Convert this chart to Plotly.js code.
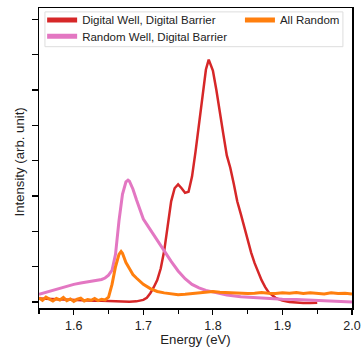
<!DOCTYPE html>
<html>
<head>
<meta charset="utf-8">
<script src="https://cdn.plot.ly/plotly-3.0.1.min.js"></script>
<style>html,body{margin:0;padding:0;background:#fff;}#chart{width:361px;height:351px;}</style>
</head>
<body>
<div id="chart"></div>
<script>
// Digital Well, Digital Barrier (red)
const redE = [1.55,1.56,1.57,1.58,1.59,1.60,1.61,1.62,1.63,1.64,1.65,1.66,1.67,1.68,1.69,1.70,1.705,1.71,1.715,1.72,1.725,1.73,1.735,1.74,1.745,1.75,1.755,1.76,1.765,1.77,1.775,1.78,1.785,1.79,1.794,1.80,1.805,1.81,1.815,1.82,1.825,1.83,1.835,1.84,1.845,1.85,1.855,1.86,1.865,1.87,1.875,1.88,1.89,1.90,1.91,1.92,1.93,1.94,1.95];
const redI = [0.10,0.09,0.08,0.07,0.06,0.05,0.05,0.05,0.04,0.04,0.03,0.02,0.02,0.01,0.02,0.06,0.12,0.25,0.42,0.62,0.95,1.45,2.15,2.85,3.22,3.33,3.22,3.09,3.12,3.55,4.25,5.05,5.92,6.58,6.86,6.55,6.00,5.30,4.75,4.15,3.80,3.35,2.85,2.50,2.12,1.75,1.40,1.10,0.84,0.62,0.43,0.28,0.12,0.04,0.00,-0.02,-0.03,-0.03,-0.02];

// Random Well, Digital Barrier (pink)
const pinkE = [1.55,1.56,1.57,1.58,1.59,1.60,1.61,1.62,1.63,1.64,1.645,1.65,1.655,1.66,1.665,1.67,1.675,1.678,1.68,1.685,1.69,1.695,1.70,1.705,1.71,1.72,1.73,1.74,1.75,1.76,1.77,1.78,1.79,1.80,1.82,1.84,1.86,1.88,1.90,1.92,1.94,1.96,1.98,2.00];
const pinkI = [0.22,0.28,0.33,0.39,0.45,0.50,0.54,0.57,0.60,0.64,0.68,0.76,0.90,1.35,2.30,3.05,3.40,3.45,3.42,3.20,2.90,2.60,2.35,2.20,2.05,1.75,1.42,1.15,0.88,0.66,0.50,0.40,0.33,0.28,0.20,0.15,0.12,0.10,0.08,0.07,0.05,0.03,0.02,0.00];

// All Random (orange)
const orangeE = [1.55,1.555,1.56,1.565,1.57,1.575,1.58,1.585,1.59,1.595,1.60,1.605,1.61,1.615,1.62,1.625,1.63,1.635,1.64,1.645,1.65,1.655,1.66,1.665,1.668,1.67,1.675,1.68,1.685,1.69,1.695,1.70,1.71,1.72,1.73,1.74,1.75,1.76,1.77,1.78,1.79,1.80,1.81,1.82,1.83,1.84,1.85,1.86,1.87,1.88,1.89,1.90,1.91,1.92,1.93,1.94,1.95,1.96,1.97,1.98,1.99,2.00];
const orangeI = [0.12,0.05,0.14,0.08,0.03,0.10,0.06,0.13,0.04,0.09,0.02,0.08,0.11,0.03,0.07,0.05,0.10,0.04,0.08,0.06,0.14,0.50,1.00,1.35,1.43,1.38,1.12,0.95,0.78,0.68,0.58,0.50,0.38,0.30,0.26,0.23,0.21,0.22,0.24,0.27,0.29,0.30,0.28,0.27,0.25,0.26,0.24,0.25,0.27,0.25,0.24,0.26,0.25,0.27,0.24,0.26,0.25,0.23,0.26,0.24,0.25,0.23];

const seriesNames = ['Digital Well, Digital Barrier','Random Well, Digital Barrier','All Random'];
const seriesColors = ['#d62728','#e377c2','#ff7f0e'];
const xTickVals = [1.6,1.7,1.8,1.9,2.0];
const xTickText = ['1.6','1.7','1.8','1.9','2.0'];

const FONT = 'Arial, "Liberation Sans", sans-serif';
const LEGFONT = {size:11.5, family:FONT, color:'#222'};

const traces = [
  {x: redE, y: redI, mode:'lines', line:{color:seriesColors[0], width:2.5}, showlegend:false, hoverinfo:'skip'},
  {x: pinkE, y: pinkI, mode:'lines', line:{color:seriesColors[1], width:3}, showlegend:false, hoverinfo:'skip'},
  {x: orangeE, y: orangeI, mode:'lines', line:{color:seriesColors[2], width:3}, showlegend:false, hoverinfo:'skip'},
  // legend handles
  {x:[null], y:[null], mode:'lines', name:seriesNames[0], line:{color:seriesColors[0], width:5}, legend:'legend'},
  {x:[null], y:[null], mode:'lines', name:seriesNames[1], line:{color:seriesColors[1], width:5}, legend:'legend3'},
  {x:[null], y:[null], mode:'lines', name:seriesNames[2], line:{color:seriesColors[2], width:5}, legend:'legend2'}
];

const legBase = {xanchor:'left', yanchor:'middle', bgcolor:'rgba(0,0,0,0)', borderwidth:0, font:LEGFONT, itemwidth:30};

const layout = {
  width:361, height:351,
  margin:{l:39, r:9, t:5, b:43},
  paper_bgcolor:'#fff', plot_bgcolor:'#fff',
  font:{family:FONT, color:'#222', size:11},
  xaxis:{
    range:[1.55,2.0], tickvals:xTickVals, ticktext:xTickText,
    ticks:'outside', ticklen:5, tickwidth:1.2, tickcolor:'#000',
    minor:{dtick:0.05, tick0:1.55, ticks:'outside', ticklen:4, tickwidth:1.2, tickcolor:'#000'},
    showline:true, linecolor:'#000', linewidth:1.5, mirror:true,
    showgrid:false, zeroline:false,
    tickfont:{size:12.5, family:FONT, color:'#222'},
    title:{text:'Energy (eV)', font:{size:13.2, family:FONT, color:'#222'}, standoff:2}
  },
  yaxis:{
    range:[-0.168,8.32], tick0:0, dtick:1,
    ticks:'outside', ticklen:6, tickwidth:1.2, tickcolor:'#000',
    showticklabels:false,
    showline:true, linecolor:'#000', linewidth:1.5, mirror:true,
    showgrid:false, zeroline:false
  },
  legend:Object.assign({x:0.01, y:0.9604}, legBase),
  legend3:Object.assign({x:0.01, y:0.906}, legBase),
  legend2:Object.assign({x:0.642, y:0.9604}, legBase),
  shapes:[{type:'rect', xref:'paper', yref:'paper', x0:0.019, x1:0.971, y0:0.871, y1:0.987,
    line:{color:'#dddddd', width:1}, fillcolor:'rgba(255,255,255,0.8)', layer:'above'}],
  annotations:[{text:'Intensity (arb. unit)', xref:'paper', yref:'paper', x:-0.061, y:0.488,
    textangle:-90, showarrow:false, font:{size:13.2, family:FONT, color:'#222'}, xanchor:'center', yanchor:'middle'}]
};

Plotly.newPlot('chart', traces, layout, {displayModeBar:false, staticPlot:true});
</script>
</body>
</html>
